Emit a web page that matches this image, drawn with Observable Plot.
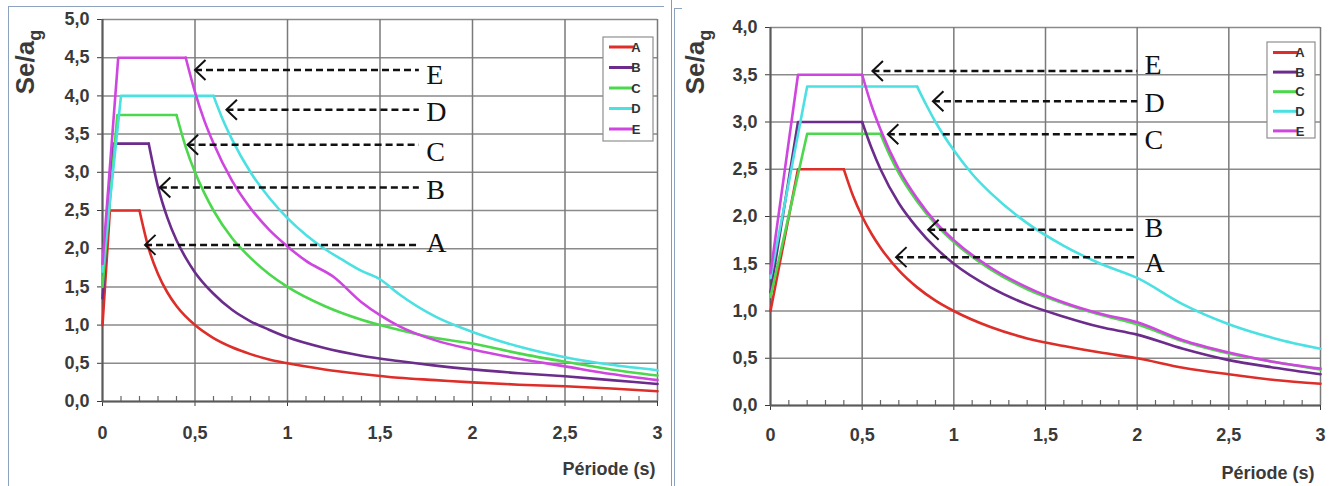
<!DOCTYPE html>
<html>
<head>
<meta charset="utf-8">
<script src="https://cdn.jsdelivr.net/npm/d3@7"></script>
<script src="https://cdn.jsdelivr.net/npm/@observablehq/plot@0.6"></script>
<style>
  html, body { margin: 0; padding: 0; background: #fff; }
  #wrap { position: relative; width: 1343px; height: 486px; display: flex; flex-direction: row; overflow: hidden; }
  #left, #right { position: relative; }
  .bl { position: absolute; background: #8da2bd; }
</style>
</head>
<body>
<div id="wrap">
  <div id="left"></div>
  <div id="right"></div>
  <div class="bl" style="left:8px; top:6px; width:1px; height:480px;"></div>
  <div class="bl" style="left:8px; top:6px; width:656px; height:1px;"></div>
  <div class="bl" style="left:671px; top:0px; width:1px; height:486px; background:#7b9cc9;"></div>
  <div class="bl" style="left:674px; top:8px; width:1px; height:478px;"></div>
  <div class="bl" style="left:674px; top:8px; width:8px; height:1px;"></div>
</div>
<script>
// ---------- shared ----------
const seriesNames = ["A", "B", "C", "D", "E"];
const seriesColors = ["#dd2e2a", "#6b2c8c", "#4cd84c", "#4be0e2", "#cf45df"];
const xTicks = [0, 0.5, 1, 1.5, 2, 2.5, 3];
const xTickLabels = ["0", "0,5", "1", "1,5", "2", "2,5", "3"];
const xMinorTicks = [0.1,0.2,0.3,0.4,0.6,0.7,0.8,0.9,1.1,1.2,1.3,1.4,1.6,1.7,1.8,1.9,2.1,2.2,2.3,2.4,2.6,2.7,2.8,2.9];
const xTitle = "Période (s)";

// ---------- left chart (T, Se/ag) ----------
const leftYTicks = [0, 0.5, 1, 1.5, 2, 2.5, 3, 3.5, 4, 4.5, 5];
const leftYTickLabels = ["0,0","0,5","1,0","1,5","2,0","2,5","3,0","3,5","4,0","4,5","5,0"];
// index of the plateau-end point in each series (ramp + plateau drawn straight, decay drawn smooth)
const leftA = [[0,1.0],[0.04,2.5],[0.2,2.5],[0.25,2.0],[0.3,1.67],[0.35,1.43],[0.4,1.25],[0.5,1.0],[0.6,0.83],[0.7,0.71],[0.8,0.62],[0.9,0.55],[1.0,0.5],[1.2,0.42],[1.4,0.36],[1.6,0.31],[1.8,0.28],[2.0,0.25],[2.25,0.22],[2.5,0.2],[2.75,0.17],[3.0,0.135]];
const leftB = [[0,1.35],[0.06,3.375],[0.25,3.375],[0.3,2.81],[0.35,2.41],[0.4,2.11],[0.45,1.88],[0.5,1.69],[0.6,1.41],[0.7,1.2],[0.8,1.05],[0.9,0.94],[1.0,0.84],[1.2,0.7],[1.4,0.6],[1.6,0.53],[1.8,0.47],[2.0,0.42],[2.25,0.37],[2.5,0.33],[2.75,0.28],[3.0,0.23]];
const leftC = [[0,1.5],[0.08,3.75],[0.4,3.75],[0.45,3.33],[0.5,3.0],[0.55,2.73],[0.6,2.5],[0.7,2.14],[0.8,1.88],[0.9,1.67],[1.0,1.5],[1.2,1.25],[1.4,1.07],[1.6,0.94],[1.8,0.83],[2.0,0.76],[2.25,0.63],[2.5,0.52],[2.75,0.42],[3.0,0.34]];
const leftD = [[0,1.7],[0.1,4.0],[0.6,4.0],[0.65,3.69],[0.7,3.43],[0.8,3.0],[0.9,2.67],[1.0,2.4],[1.1,2.18],[1.2,2.0],[1.3,1.85],[1.4,1.71],[1.5,1.6],[1.6,1.41],[1.8,1.11],[2.0,0.91],[2.25,0.72],[2.5,0.58],[2.75,0.48],[3.0,0.41]];
const leftE = [[0,1.8],[0.085,4.5],[0.45,4.5],[0.5,4.05],[0.55,3.68],[0.6,3.38],[0.7,2.89],[0.8,2.53],[0.9,2.25],[1.0,2.03],[1.1,1.84],[1.25,1.63],[1.4,1.3],[1.5,1.13],[1.6,0.99],[1.8,0.8],[2.0,0.68],[2.25,0.56],[2.5,0.46],[2.75,0.36],[3.0,0.28]];
const leftArrowLabels = ["E", "D", "C", "B", "A"];
const leftArrowY = [4.34, 3.82, 3.36, 2.8, 2.05];
const leftArrowTip = [0.5, 0.67, 0.46, 0.31, 0.23];
const leftArrowEnd = 1.71;
const leftLabelY = [4.27, 3.79, 3.26, 2.77, 2.07];
const leftLabelX = 1.75;

// ---------- right chart ----------
const rightYTicks = [0, 0.5, 1, 1.5, 2, 2.5, 3, 3.5, 4];
const rightYTickLabels = ["0,0","0,5","1,0","1,5","2,0","2,5","3,0","3,5","4,0"];
const rightA = [[0,1.0],[0.15,2.5],[0.4,2.5],[0.45,2.22],[0.5,2.0],[0.55,1.82],[0.6,1.67],[0.7,1.43],[0.8,1.25],[0.9,1.11],[1.0,1.0],[1.2,0.83],[1.4,0.71],[1.6,0.63],[1.8,0.56],[2.0,0.5],[2.25,0.4],[2.5,0.33],[2.75,0.27],[3.0,0.23]];
const rightB = [[0,1.2],[0.15,3.0],[0.5,3.0],[0.55,2.73],[0.6,2.5],[0.7,2.14],[0.8,1.88],[0.9,1.67],[1.0,1.5],[1.2,1.25],[1.4,1.07],[1.6,0.94],[1.8,0.83],[2.0,0.75],[2.25,0.6],[2.5,0.48],[2.75,0.4],[3.0,0.33]];
const rightC = [[0,1.15],[0.2,2.875],[0.6,2.875],[0.65,2.65],[0.7,2.46],[0.8,2.16],[0.9,1.92],[1.0,1.73],[1.2,1.44],[1.4,1.23],[1.6,1.08],[1.8,0.96],[2.0,0.86],[2.25,0.68],[2.5,0.55],[2.75,0.46],[3.0,0.38]];
const rightD = [[0,1.35],[0.2,3.375],[0.8,3.375],[0.85,3.18],[0.9,3.0],[1.0,2.7],[1.1,2.45],[1.2,2.25],[1.4,1.93],[1.6,1.69],[1.8,1.5],[2.0,1.35],[2.25,1.07],[2.5,0.86],[2.75,0.71],[3.0,0.6]];
const rightE = [[0,1.4],[0.15,3.5],[0.5,3.5],[0.55,3.18],[0.6,2.92],[0.7,2.5],[0.8,2.19],[0.9,1.94],[1.0,1.75],[1.2,1.46],[1.4,1.25],[1.6,1.09],[1.8,0.97],[2.0,0.88],[2.25,0.69],[2.5,0.56],[2.75,0.46],[3.0,0.39]];
const rightArrowLabels = ["E", "D", "C", "B", "A"];
const rightArrowY = [3.54, 3.22, 2.87, 1.86, 1.57];
const rightArrowTip = [0.556, 0.886, 0.64, 0.86, 0.685];
const rightArrowEnd = 2.0;
const rightLabelY = [3.6, 3.2, 2.81, 1.88, 1.51];
const rightLabelX = 2.04;

// ---------- builders ----------
const chevron = {
  draw(ctx, size) {
    const r = Math.sqrt(size / Math.PI);
    ctx.moveTo(r * 1.05, -r);
    ctx.lineTo(0, 0);
    ctx.lineTo(r * 1.05, r);
  }
};

// ramp + plateau = first three points (straight); the rest (from plateau end) is the decay branch
function toRows(arrays, part) {
  return arrays.flatMap((arr, k) => {
    const pts = part === "head" ? arr.slice(0, 3) : arr.slice(2);
    return pts.map(([T, v]) => ({T, v, s: seriesNames[k]}));
  });
}

function makeChart(cfg) {
  const headRows = toRows(cfg.series, "head");
  const tailRows = toRows(cfg.series, "tail");
  const arrows = cfg.arrowLabels.map((lab, i) => ({lab, y: cfg.arrowY[i], tip: cfg.arrowTip[i], end: cfg.arrowEnd, ly: cfg.labelY[i], lx: cfg.labelX}));
  const plot = Plot.plot({
    width: cfg.width,
    height: 486,
    marginLeft: cfg.ml, marginRight: cfg.mr, marginTop: cfg.mt, marginBottom: cfg.mb,
    style: {fontFamily: "'Liberation Sans', Arial, sans-serif", fontSize: "18px", fontWeight: "bold", color: "#3a3a3a", background: "transparent", overflow: "visible"},
    x: {domain: [0, 3], ticks: xTicks, tickFormat: (d, i) => xTickLabels[i], tickSize: 5, tickPadding: cfg.xPad, label: null},
    y: {domain: [0, cfg.ymax], ticks: cfg.yTicks, tickFormat: (d, i) => cfg.yTickLabels[i], tickSize: 5, tickPadding: 8, label: null},
    color: {domain: seriesNames, range: seriesColors},
    marks: [
      Plot.ruleY(cfg.yTicks, {stroke: "#8a8a8a", strokeWidth: 1.5}),
      Plot.ruleX(xTicks, {stroke: "#7a7a7a", strokeWidth: 1.5}),
      Plot.ruleX(xMinorTicks, {y1: 0, y2: cfg.minorLen, stroke: "#666", strokeWidth: 1.2}),
      Plot.ruleY([0], {stroke: "#5a5a5a", strokeWidth: 2}),
      Plot.ruleX([0], {stroke: "#5a5a5a", strokeWidth: 2}),
      Plot.line(headRows, {x: "T", y: "v", z: "s", stroke: "s", strokeWidth: 2.6, strokeLinejoin: "round", strokeLinecap: "round"}),
      Plot.line(tailRows, {x: "T", y: "v", z: "s", stroke: "s", strokeWidth: 2.6, curve: "monotone-x", strokeLinejoin: "round", strokeLinecap: "round"}),
      Plot.link(arrows, {x1: "tip", y1: "y", x2: "end", y2: "y", stroke: "#111", strokeWidth: 2.5, strokeDasharray: "7,4"}),
      Plot.dot(arrows, {x: "tip", y: "y", r: 10, symbol: chevron, fill: "none", stroke: "#111", strokeWidth: 2}),
      Plot.text(arrows, {x: "lx", y: "ly", text: "lab", textAnchor: "start", lineAnchor: "middle", fontFamily: "'Liberation Serif', 'Times New Roman', serif", fontSize: 28, fontWeight: "normal", fill: "#111"}),
      Plot.text([xTitle], {frameAnchor: "bottom-right", dy: 68, dx: cfg.titleDx, textAnchor: "end", lineAnchor: "middle", fontSize: 18, fontWeight: "bold", fill: "#3a3a3a"})
    ]
  });

  const svg = d3.select(plot);
  // y-axis title with subscript
  const t = svg.append("text")
    .attr("transform", "translate(34,62) rotate(-90)")
    .attr("text-anchor", "middle")
    .attr("font-family", "'Liberation Sans', Arial, sans-serif")
    .attr("font-weight", "bold")
    .attr("font-size", 26)
    .attr("fill", "#3a3a3a");
  t.append("tspan").text("Se/a");
  t.append("tspan").attr("font-size", 18).attr("dy", 7).text("g");

  // legend box
  const L = cfg.legend;
  const g = svg.append("g");
  g.append("rect").attr("x", L.x).attr("y", L.y).attr("width", L.w).attr("height", L.h)
    .attr("fill", "#fff").attr("stroke", "#8f8f8f").attr("stroke-width", 1.2);
  seriesNames.forEach((s, i) => {
    const yy = L.y + L.first + i * L.step;
    g.append("line").attr("x1", L.x + 6).attr("x2", L.x + 31).attr("y1", yy).attr("y2", yy)
      .attr("stroke", seriesColors[i]).attr("stroke-width", 3);
    g.append("text").attr("x", L.x + 33).attr("y", yy).attr("dy", "0.36em")
      .attr("font-family", "'Liberation Sans', Arial, sans-serif").attr("font-size", 13)
      .attr("font-weight", "bold").attr("fill", "#333").text(s);
  });
  return plot;
}

document.getElementById("left").append(makeChart({
  series: [leftA, leftB, leftC, leftD, leftE],
  width: 670, ml: 102, mr: 13, mt: 19, mb: 85, ymax: 5,
  yTicks: leftYTicks, yTickLabels: leftYTickLabels, xPad: 20, minorLen: 0.065, titleDx: -2,
  arrowLabels: leftArrowLabels, arrowY: leftArrowY, arrowTip: leftArrowTip, arrowEnd: leftArrowEnd,
  labelY: leftLabelY, labelX: leftLabelX,
  legend: {x: 603, y: 37, w: 50, h: 104, first: 10, step: 20.5}
}));

document.getElementById("right").append(makeChart({
  series: [rightA, rightB, rightC, rightD, rightE],
  width: 673, ml: 100, mr: 23, mt: 27, mb: 81, ymax: 4,
  yTicks: rightYTicks, yTickLabels: rightYTickLabels, xPad: 18, minorLen: 0.053, titleDx: -6,
  arrowLabels: rightArrowLabels, arrowY: rightArrowY, arrowTip: rightArrowTip, arrowEnd: rightArrowEnd,
  labelY: rightLabelY, labelX: rightLabelX,
  legend: {x: 597, y: 42, w: 48, h: 96, first: 10.5, step: 19.6}
}));
</script>
</body>
</html>
